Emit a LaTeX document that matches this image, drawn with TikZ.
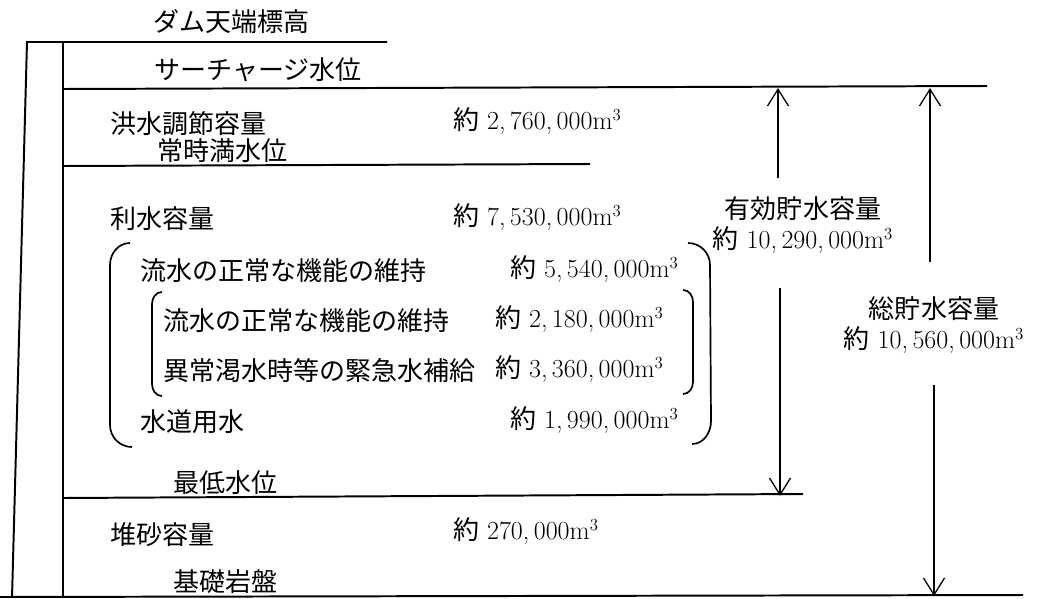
\documentclass[tikz,border=0pt]{standalone}
\usepackage{fontspec}
\usepackage{tikz}
\usetikzlibrary{
    arrows.meta,
    calc,
    positioning
}
\newfontfamily\jp{Noto Sans CJK JP}
\newcommand{\cm}{\makebox[0.42em][l]{,}}
\newcommand{\yaku}[1]{{\jp 約}\hspace{0.3em}#1m$^{3}$}
\tikzset{lvl/.style={line width=1.4pt}}
\tikzset{brk/.style={line width=1.2pt}}
\tikzset{jtxt/.style={anchor=west, inner sep=0pt, font=\fontsize{18.5}{22}\selectfont\jp}}
\tikzset{ntxt/.style={anchor=west, inner sep=0pt, font=\fontsize{18.5}{22}\selectfont}}
\tikzset{ctxt/.style={inner sep=0pt, align=center, font=\fontsize{18.5}{21}\selectfont}}
\tikzset{dim/.style={line width=0.9pt, -{Straight Barb[length=12pt, width=15pt]}}}

\begin{document}
\begin{tikzpicture}[x=0.025cm, y=-0.025cm]
                        \useasboundingbox (0,0) rectangle (1037,598);

                        \coordinate (swl) at (0,88);
                        \coordinate (lwl) at (0,496);
                        \coordinate (base) at (0,596);

                        % dam body and levels
                        \draw[lvl] (12,598) -- (27,42) -- (387,42);
                        \draw[lvl] (63,42) -- (63,598);
                        \draw[lvl] (63,89) -- (987,86);
                        \draw[lvl] (63,166) -- (590,164);
                        \draw[lvl] (63,498) -- (803,494);
                        \draw[lvl] (0,597) -- (1023,595);

                        \node[jtxt] (crest) at (153,22) {ダム天端標高};
                        \node[jtxt] (surch) at (154,70) {サーチャージ水位};
                        \node[jtxt] (flood) at (110,124) {洪水調節容量};
                        \node[ntxt] (vflood) at (453,121) {\yaku{2\cm760\cm000}};
                        \node[jtxt] (nwl) at (157,151) {常時満水位};

                        \node[jtxt] (use) at (110,219) {利水容量};
                        \node[ntxt] (vuse) at (453,217) {\yaku{7\cm530\cm000}};
                        \node[jtxt] (flow) at (140,271) {流水の正常な機能の維持};
                        \node[ntxt] (vflow) at (510,269) {\yaku{5\cm540\cm000}};
                        \node[jtxt] (flowa) at (163,321) {流水の正常な機能の維持};
                        \node[ntxt] (vflowa) at (495,319) {\yaku{2\cm180\cm000}};
                        \node[jtxt] (drought) at (163,371) {異常渇水時等の緊急水補給};
                        \node[ntxt] (vdrought) at (495,369) {\yaku{3\cm360\cm000}};
                        \node[jtxt] (supply) at (140,422) {水道用水};
                        \node[ntxt] (vsupply) at (510,420) {\yaku{1\cm990\cm000}};

                        \node[jtxt] (low) at (173,483) {最低水位};
                        \node[jtxt] (sed) at (110,535) {堆砂容量};
                        \node[ntxt] (vsed) at (453,531) {\yaku{270\cm000}};
                        \node[jtxt] (rock) at (173,582) {基礎岩盤};

                        % brackets
                        \draw[brk] (130,243) to[out=180, in=90] (110,265) -- (110,425) to[out=-90, in=180] (132,447);
                        \draw[brk] (688,243) to[out=0, in=90] (710,265) -- (711,421) to[out=-90, in=0] (692,444);
                        \draw[brk] (162,292) to[out=180, in=90] (152,304) -- (152,384) to[out=-90, in=180] (162,396);
                        \draw[brk] (683,290) to[out=0, in=90] (693,302) -- (693,382) to[out=-90, in=0] (683,394);

                        \node[ctxt] (eff) at (803,225) {{\jp 有効貯水容量}\\\yaku{10\cm290\cm000}};
                        \node[ctxt] (tot) at (934,325) {{\jp 総貯水容量}\\\yaku{10\cm560\cm000}};

                        \coordinate (e1) at (778,178);
                        \coordinate (e2) at (780,288);
                        \coordinate (t1) at (930,262);
                        \coordinate (t2) at (934,385);

                        \draw[dim] (e1) -- (e1 |- swl);
                        \draw[dim] (e2) -- (e2 |- lwl);
                        \draw[dim] (t1) -- (t1 |- swl);
                        \draw[dim] (t2) -- (t2 |- base);
                    \end{tikzpicture}
\end{document}
